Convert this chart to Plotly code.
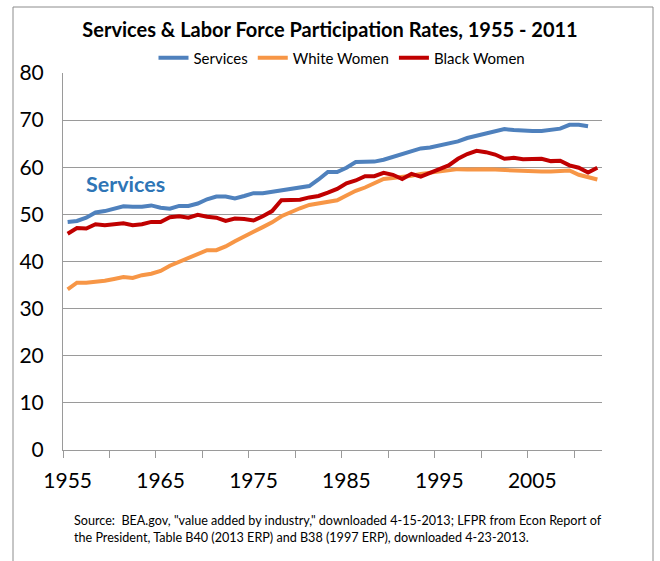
import plotly.graph_objects as go

# years on the category axis
years = list(range(1955, 2013))
services_years = list(range(1955, 2012))

# value added share of services (%), 1955-2011
services = [48.4, 48.6, 49.3, 50.4, 50.7, 51.3, 51.7, 51.6, 51.6, 51.9,
            51.4, 51.2, 51.8, 51.8, 52.3, 53.2, 53.8, 53.8, 53.4, 53.9,
            54.5, 54.5, 54.8, 55.1, 55.4, 55.9, 56.0, 57.4, 59.0, 59.0,
            59.9, 61.1, 61.2, 61.2, 61.6, 62.2, 62.8, 63.4, 64.0, 64.2,
            64.6, 65.0, 65.5, 66.2, 66.7, 67.0, 67.7, 68.1, 67.9, 67.7,
            67.7, 67.7, 67.9, 68.2, 69.0, 69.0, 68.7]

# labor force participation rates (%), 1955-2012
white_women = [34.1, 35.5, 35.5, 35.6, 35.9, 36.3, 36.7, 36.5, 37.1, 37.4,
               38.0, 39.1, 39.9, 40.7, 41.7, 42.4, 42.4, 43.2, 44.3, 45.4,
               46.3, 47.3, 48.3, 49.6, 50.5, 51.3, 52.0, 52.4, 52.8, 53.0,
               54.0, 55.0, 55.7, 56.7, 57.5, 57.7, 57.9, 58.2, 58.6, 58.8,
               59.1, 59.3, 59.6, 59.5, 59.6, 59.6, 59.5, 59.4, 59.3, 59.1,
               59.1, 59.1, 59.1, 59.3, 59.3, 58.4, 57.9, 57.4]

black_women = [45.9, 47.1, 47.0, 47.9, 47.7, 48.0, 48.1, 47.7, 47.9, 48.4,
               48.4, 49.4, 49.6, 49.3, 49.9, 49.5, 49.3, 48.6, 49.1, 49.0,
               48.7, 49.6, 50.7, 53.0, 53.0, 53.1, 53.6, 53.9, 54.6, 55.4,
               56.6, 57.2, 58.1, 58.1, 58.8, 58.4, 57.5, 58.6, 58.0, 58.9,
               59.6, 60.4, 61.8, 62.8, 63.5, 63.2, 62.7, 61.8, 62.0, 61.7,
               61.7, 61.8, 61.3, 61.4, 60.4, 59.9, 58.9, 59.9]

label_years = [1955, 1965, 1975, 1985, 1995, 2005]
y_ticks = [0, 10, 20, 30, 40, 50, 60, 70, 80]

FONT = "Lato"
GRID = "#9a9a9a"

fig = go.Figure()
fig.add_trace(go.Scatter(x=services_years, y=services, name="Services", mode="lines",
                         line=dict(color="#4F81BD", width=4)))
fig.add_trace(go.Scatter(x=years, y=white_women, name="White Women", mode="lines",
                         line=dict(color="#F79646", width=4)))
fig.add_trace(go.Scatter(x=years, y=black_women, name="Black Women", mode="lines",
                         line=dict(color="#C00000", width=4)))

# plot area in pixels, used to place the frame and notes
L, R, T, B = 63, 602, 73, 450
W, H = 660, 561


def px_x(v):
    return (v - L) / (R - L)


def px_y(v):
    return (B - v) / (B - T)


fig.update_layout(
    width=W, height=H,
    margin=dict(l=L, r=W - R, t=T, b=H - B, autoexpand=False),
    paper_bgcolor="white", plot_bgcolor="white",
    font=dict(family=FONT, color="black"),
    title=dict(text="<b>Services & Labor Force Participation Rates, 1955 - 2011</b>",
               font=dict(size=20, family=FONT, color="black"),
               x=330 / W, xanchor="center", y=1 - 30 / H, yanchor="middle"),
    legend=dict(orientation="h", xref="paper", yref="paper",
                x=px_x(342), xanchor="center", y=px_y(58), yanchor="middle",
                font=dict(size=15, family=FONT), itemwidth=30,
                bgcolor="rgba(0,0,0,0)"),
    showlegend=True,
    xaxis=dict(range=[1954.5, 2012.5], tickmode="array", tickvals=label_years,
               ticktext=[str(y) for y in label_years], ticks="",
               tickfont=dict(size=21, family=FONT), ticklabelstandoff=12,
               showgrid=False, showline=True, linecolor=GRID, linewidth=1,
               zeroline=False,
               minor=dict(tickmode="array",
                          tickvals=[1954.5 + 5 * k for k in range(12)],
                          ticks="outside", ticklen=7, tickcolor=GRID,
                          showgrid=False)),
    yaxis=dict(range=[0, 80], tickmode="array", tickvals=y_ticks, ticks="",
               tickfont=dict(size=21, family=FONT), ticklabelstandoff=14,
               showgrid=True, gridcolor=GRID, gridwidth=1,
               showline=True, linecolor=GRID, linewidth=1, zeroline=False),
)

fig.add_annotation(text="<b>Services</b>", xref="paper", yref="y",
                   x=px_x(84), y=56.4, xanchor="left", yanchor="middle",
                   showarrow=False, font=dict(size=21.5, family=FONT, color="#2E75B6"))

fig.add_annotation(text='Source:  BEA.gov, "value added by industry," downloaded 4-15-2013; LFPR from Econ Report of',
                   xref="paper", yref="paper", x=px_x(72), y=px_y(520),
                   xanchor="left", yanchor="middle", showarrow=False,
                   font=dict(size=12.6, family=FONT, color="black"))
fig.add_annotation(text="the President, Table B40 (2013 ERP) and B38 (1997 ERP), downloaded 4-23-2013.",
                   xref="paper", yref="paper", x=px_x(72), y=px_y(537),
                   xanchor="left", yanchor="middle", showarrow=False,
                   font=dict(size=12.6, family=FONT, color="black"))

# chart frame (bottom edge runs off the picture, as in the original)
fig.add_shape(type="rect", xref="paper", yref="paper",
              x0=px_x(13), x1=px_x(653), y0=px_y(570), y1=px_y(7),
              line=dict(color="#8c8c8c", width=1), fillcolor="rgba(0,0,0,0)")

# drop the browser's default body margin so the figure sits at the page corner
fig.write_html("out.html", config={"displayModeBar": False},
               post_script="document.body.style.margin='0';")
